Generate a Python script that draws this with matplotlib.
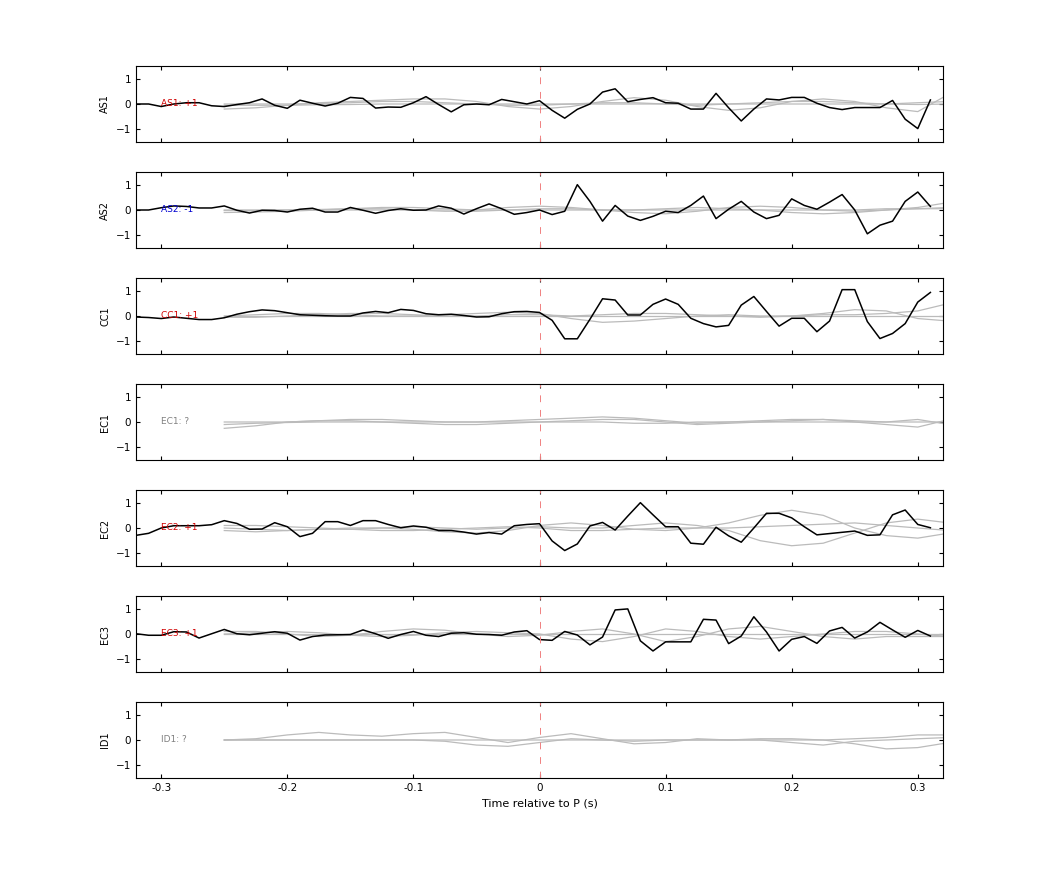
import numpy as np
import matplotlib.pyplot as plt

stations = ['AS1', 'AS2', 'CC1', 'EC1', 'EC2', 'EC3', 'ID1']
polarity = ['+1', '-1', '+1', '?', '+1', '+1', '?']
pol_colors = {'+1': '#d00000', '-1': '#0000d0', '?': '#808080'}

# black traces, sampled every 0.01 s from -0.32 to 0.31
t_black = np.round(np.arange(-0.32, 0.315, 0.01), 2)
black = {
    'AS1': [0.0, 0.0, -0.1, 0.0, 0.05, 0.05, -0.07, -0.1, -0.02, 0.05, 0.2, -0.05, -0.17, 0.15, 0.03, -0.08,
            0.03, 0.26, 0.22, -0.16, -0.12, -0.13, 0.05, 0.29, -0.02, -0.31, -0.03, 0.0, -0.03, 0.18, 0.09, 0.0,
            0.13, -0.25, -0.56, -0.21, 0.0, 0.47, 0.6, 0.09, 0.18, 0.25, 0.05, 0.03, -0.2, -0.2, 0.42, -0.15,
            -0.67, -0.2, 0.2, 0.16, 0.26, 0.26, 0.03, -0.14, -0.22, -0.14, -0.14, -0.14, 0.14, -0.6, -0.97, 0.16],
    'AS2': [0.0, 0.0, 0.09, 0.16, 0.14, 0.08, 0.08, 0.16, -0.01, -0.12, -0.01, -0.02, -0.08, 0.03, 0.07, -0.08,
            -0.08, 0.1, -0.01, -0.13, -0.02, 0.05, -0.01, 0.0, 0.16, 0.07, -0.16, 0.05, 0.24, 0.05, -0.17, -0.1,
            0.0, -0.18, -0.05, 1.0, 0.34, -0.44, 0.18, -0.24, -0.41, -0.25, -0.05, -0.1, 0.18, 0.55, -0.34, 0.03,
            0.34, -0.08, -0.34, -0.21, 0.44, 0.18, 0.03, 0.31, 0.61, 0.0, -0.94, -0.6, -0.44, 0.34, 0.71, 0.14],
    'CC1': [-0.04, -0.06, -0.1, -0.04, -0.09, -0.14, -0.14, -0.07, 0.07, 0.17, 0.24, 0.21, 0.13, 0.05, 0.03, 0.01,
            0.0, 0.0, 0.12, 0.18, 0.13, 0.26, 0.22, 0.09, 0.05, 0.07, 0.02, -0.04, -0.03, 0.09, 0.17, 0.18,
            0.14, -0.17, -0.9, -0.9, -0.13, 0.68, 0.63, 0.04, 0.04, 0.46, 0.67, 0.46, -0.09, -0.3, -0.43, -0.37,
            0.43, 0.77, 0.18, -0.4, -0.09, -0.09, -0.62, -0.2, 1.04, 1.04, -0.22, -0.89, -0.69, -0.3, 0.55, 0.93],
    'EC2': [-0.29, -0.21, 0.0, 0.09, 0.09, 0.09, 0.13, 0.29, 0.18, -0.05, -0.04, 0.21, 0.05, -0.34, -0.21, 0.25,
            0.25, 0.1, 0.29, 0.29, 0.14, 0.01, 0.08, 0.03, -0.1, -0.1, -0.16, -0.24, -0.18, -0.24, 0.09, 0.14,
            0.17, -0.51, -0.89, -0.63, 0.08, 0.22, -0.08, 0.47, 1.0, 0.52, 0.05, 0.05, -0.6, -0.64, 0.03, -0.31,
            -0.56, 0.0, 0.58, 0.58, 0.4, 0.05, -0.27, -0.22, -0.17, -0.12, -0.29, -0.27, 0.52, 0.71, 0.14, 0.01],
    'EC3': [0.01, -0.05, -0.05, 0.09, 0.08, -0.16, 0.01, 0.18, 0.01, -0.03, 0.03, 0.09, 0.03, -0.24, -0.1, -0.04,
            -0.03, -0.02, 0.16, 0.01, -0.17, -0.02, 0.1, -0.05, -0.1, 0.03, 0.05, -0.01, -0.02, -0.05, 0.08, 0.13,
            -0.22, -0.25, 0.1, -0.04, -0.43, -0.12, 0.95, 0.99, -0.27, -0.67, -0.31, -0.31, -0.31, 0.58, 0.55, -0.38,
            -0.08, 0.68, 0.08, -0.67, -0.21, -0.1, -0.37, 0.12, 0.26, -0.16, 0.08, 0.46, 0.16, -0.13, 0.14, -0.08],
}

# grey synthetic traces, points every 0.025 s from -0.25 to 0.325
t_grey = np.round(np.arange(-0.25, 0.326, 0.025), 3)
grey = {
    'AS1': [[-0.2, -0.15, -0.05, 0.05, 0.1, 0.15, 0.2, 0.2, 0.1, -0.1, -0.2, -0.1, 0.1, 0.25, 0.15, -0.1, -0.25, -0.15, 0.1, 0.2, 0.1, -0.15, -0.3, 0.4],
            [0.0, 0.0, 0.0, 0.02, 0.05, 0.1, 0.1, 0.05, 0.0, -0.05, -0.05, 0.0, 0.05, 0.05, 0.0, -0.05, 0.0, 0.05, 0.1, 0.1, 0.05, 0.0, 0.05, 0.1],
            [-0.05, -0.05, -0.05, -0.03, -0.02, 0.0, 0.0, 0.0, 0.0, 0.0, 0.0, 0.0, 0.0, 0.0, 0.0, 0.0, 0.0, 0.0, 0.0, 0.0, 0.0, 0.0, -0.02, 0.0]],
    'AS2': [[-0.1, -0.08, -0.05, 0.0, 0.05, 0.1, 0.1, 0.05, 0.0, 0.1, 0.15, 0.1, 0.0, -0.1, -0.15, -0.05, 0.1, 0.15, 0.1, 0.0, -0.05, 0.0, 0.1, 0.3],
            [-0.02, -0.02, 0.0, 0.02, 0.05, 0.05, 0.0, -0.05, -0.05, 0.0, 0.05, 0.05, 0.0, 0.0, 0.05, 0.1, 0.05, 0.0, -0.1, -0.15, -0.1, 0.0, 0.05, 0.1],
            [0.0, 0.0, 0.0, 0.0, 0.0, 0.0, 0.0, 0.0, 0.0, 0.0, 0.0, 0.0, 0.0, 0.0, 0.0, 0.0, 0.0, 0.0, 0.0, 0.0, 0.0, 0.05, 0.05, 0.05]],
    'CC1': [[0.0, 0.05, 0.1, 0.1, 0.05, 0.0, 0.0, 0.05, 0.1, 0.15, 0.1, -0.1, -0.25, -0.2, -0.1, 0.0, 0.05, 0.0, 0.0, 0.1, 0.25, 0.2, -0.1, -0.2],
            [-0.05, -0.05, 0.0, 0.05, 0.1, 0.1, 0.05, 0.0, 0.0, 0.05, 0.05, 0.0, 0.05, 0.1, 0.1, 0.05, 0.0, -0.05, 0.0, 0.05, 0.05, 0.1, 0.2, 0.5],
            [0.0, 0.0, 0.0, 0.0, 0.0, 0.0, 0.0, 0.0, 0.0, 0.0, 0.0, 0.0, 0.0, 0.0, 0.0, 0.0, 0.0, 0.0, 0.0, 0.0, 0.0, 0.0, 0.0, 0.0]],
    'EC1': [[-0.25, -0.15, 0.0, 0.05, 0.05, 0.0, -0.05, -0.1, -0.1, -0.05, 0.0, 0.05, 0.1, 0.1, 0.0, -0.1, -0.05, 0.0, 0.05, 0.1, 0.0, -0.1, -0.2, 0.1],
            [0.0, 0.0, 0.0, 0.05, 0.1, 0.1, 0.05, 0.0, 0.0, 0.05, 0.1, 0.15, 0.2, 0.15, 0.05, -0.05, 0.0, 0.05, 0.1, 0.1, 0.05, 0.0, 0.1, -0.1],
            [-0.1, -0.05, -0.02, 0.0, 0.0, 0.0, 0.0, 0.0, 0.0, 0.0, 0.0, 0.0, 0.0, -0.05, -0.05, 0.0, 0.0, 0.0, 0.0, 0.0, 0.0, 0.0, 0.0, 0.0]],
    'EC2': [[0.0, -0.05, -0.1, -0.05, 0.0, 0.0, -0.05, -0.15, -0.2, -0.1, 0.1, 0.2, 0.1, -0.05, -0.1, 0.0, 0.2, 0.5, 0.7, 0.5, 0.0, -0.3, -0.4, -0.2],
            [0.1, 0.1, 0.05, 0.0, -0.05, 0.0, 0.05, 0.0, -0.05, 0.0, 0.05, 0.0, 0.0, 0.1, 0.2, 0.1, -0.1, -0.5, -0.7, -0.6, -0.2, 0.2, 0.35, 0.2],
            [-0.1, -0.15, -0.1, -0.05, -0.05, -0.1, -0.1, -0.05, 0.0, 0.05, 0.0, -0.1, -0.1, -0.05, 0.0, 0.0, 0.0, 0.05, 0.1, 0.15, 0.2, 0.1, 0.0, -0.1]],
    'EC3': [[0.1, 0.1, 0.0, -0.1, -0.05, 0.1, 0.2, 0.15, 0.0, -0.1, -0.05, 0.1, 0.2, 0.0, -0.3, -0.1, 0.2, 0.3, 0.1, -0.1, -0.2, -0.1, -0.1, -0.1],
            [0.0, 0.05, 0.1, 0.05, -0.05, -0.1, -0.05, 0.05, 0.1, 0.05, 0.0, -0.2, -0.3, -0.1, 0.2, 0.1, -0.1, -0.2, -0.1, 0.0, 0.1, 0.1, 0.0, -0.1],
            [0.0, 0.0, 0.0, 0.0, 0.0, 0.0, 0.0, 0.0, 0.0, 0.0, 0.0, 0.0, 0.0, 0.0, 0.0, 0.0, 0.0, 0.0, 0.0, 0.0, 0.0, 0.0, 0.0, 0.0]],
    'ID1': [[0.0, 0.05, 0.2, 0.3, 0.2, 0.15, 0.25, 0.3, 0.1, -0.1, 0.1, 0.25, 0.05, -0.15, -0.1, 0.05, 0.0, 0.0, -0.1, -0.2, -0.05, 0.0, 0.05, 0.1],
            [0.0, 0.0, 0.0, 0.0, 0.0, 0.0, 0.0, -0.05, -0.2, -0.25, -0.1, 0.05, 0.0, -0.05, 0.0, 0.0, 0.0, 0.05, 0.05, 0.0, -0.15, -0.35, -0.3, -0.1],
            [0.0, 0.0, 0.0, 0.0, 0.0, 0.0, 0.0, 0.0, 0.0, 0.0, 0.0, 0.0, 0.0, 0.0, 0.0, 0.0, 0.0, 0.0, 0.0, 0.0, 0.05, 0.1, 0.2, 0.2]],
}

fig = plt.figure(figsize=(10.42, 8.75), dpi=100)
W, H = 1042, 875
tops = [66, 172, 278, 384, 490, 596, 702]
for i, st in enumerate(stations):
    ax = fig.add_axes([136 / W, 1 - (tops[i] + 76) / H, 807 / W, 76 / H])
    for g in grey[st]:
        ax.plot(t_grey, g, color='#bbbbbb', lw=0.9)
    if st in black:
        ax.plot(t_black, black[st], color='k', lw=1.1)
    ax.axvline(0, color='#f08080', lw=0.7, dashes=(7, 8))
    ax.text(-0.3, 0, st + ': ' + polarity[i], color=pol_colors[polarity[i]],
            fontsize=6.5, va='center', ha='left')
    ax.set_xlim(-0.32, 0.32)
    ax.set_ylim(-1.5, 1.5)
    ax.set_yticks([-1, 0, 1])
    ax.set_xticks([-0.3, -0.2, -0.1, 0, 0.1, 0.2, 0.3])
    ax.tick_params(direction='in', top=True, right=True, labelsize=7.5, length=3)
    ax.set_ylabel(st, fontsize=7)
    if i < len(stations) - 1:
        ax.set_xticklabels([])
    else:
        ax.set_xticklabels(['-0.3', '-0.2', '-0.1', '0', '0.1', '0.2', '0.3'])
        ax.set_xlabel('Time relative to P (s)', fontsize=8)

fig.savefig('out.png', dpi=100)
